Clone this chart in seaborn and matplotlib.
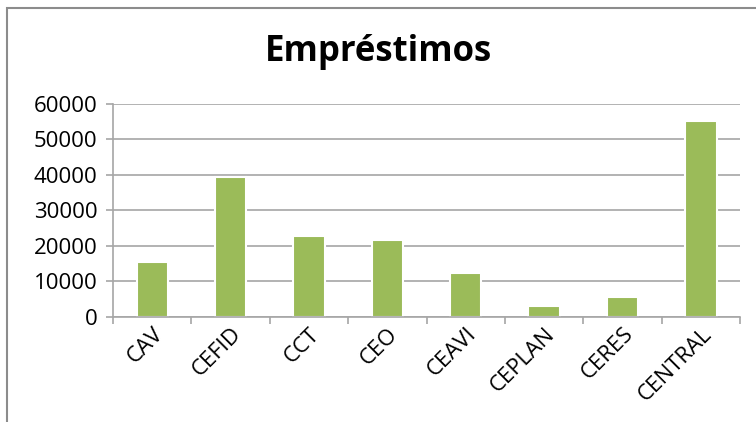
import numpy as np
import pandas as pd
import matplotlib
matplotlib.use('Agg')
import matplotlib.pyplot as plt
import seaborn as sns

# values
unidades = ['CAV', 'CEFID', 'CCT', 'CEO', 'CEAVI', 'CEPLAN', 'CERES', 'CENTRAL']
emprestimos = [15500, 39400, 22900, 21600, 12300, 3000, 5500, 55100]
yticks = [0, 10000, 20000, 30000, 40000, 50000, 60000]

df = pd.DataFrame({'unidade': unidades, 'emprestimos': emprestimos})

sns.set_theme(style='white')
plt.rcParams['font.family'] = ['Open Sans', 'DejaVu Sans']

fig = plt.figure(figsize=(7.56, 4.22), dpi=100)
ax = fig.add_axes([0.1495, 0.2495, 0.8295, 0.5041])

sns.barplot(data=df, x='unidade', y='emprestimos', color='#9BBB59',
            saturation=1, width=0.4, edgecolor='white', linewidth=1.5, ax=ax)

grid = '#a6a6a6'
ax.set_ylim(0, 60000)
ax.set_xlim(-0.5, len(unidades) - 0.5)
ax.set_yticks(yticks)
ax.set_yticklabels([str(v) for v in yticks], fontsize=16, color='black')
ax.yaxis.grid(True, color=grid, linewidth=1.2)
ax.set_axisbelow(True)

ax.set_xticks(range(len(unidades)))
ax.set_xticklabels(unidades, rotation=45, ha='right', rotation_mode='anchor',
                   fontsize=16, color='black')
ax.set_xticks(np.arange(-0.5, len(unidades), 1), minor=True)
ax.tick_params(axis='x', which='major', length=0, pad=5)
ax.tick_params(axis='x', which='minor', length=5, color=grid, width=1.2, direction='out')
ax.tick_params(axis='y', length=5, color=grid, width=1.2, direction='out', pad=6)
ax.tick_params(axis='both', bottom=True, left=True, which='both')

for s in ['top', 'right']:
    ax.spines[s].set_visible(False)
for s in ['left', 'bottom']:
    ax.spines[s].set_color(grid)
    ax.spines[s].set_linewidth(1.2)

ax.set_xlabel('')
ax.set_ylabel('')

fig.text(0.5, 0.877, 'Empréstimos', ha='center', va='center',
         fontsize=25, fontweight='bold', color='black')

# outer chart frame (cut off at right and bottom)
fig.add_artist(plt.Rectangle((0.009, -0.05), 1.1, 1.031, transform=fig.transFigure,
                             fill=False, edgecolor='#8c8c8c', linewidth=1.5))

fig.savefig('out.png', dpi=100)
